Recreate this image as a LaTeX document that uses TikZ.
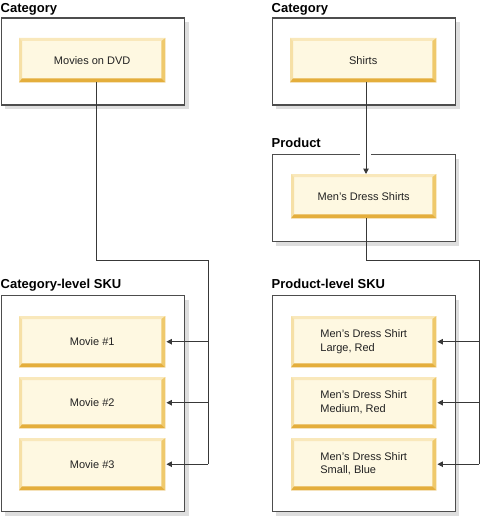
\documentclass[tikz,border=0pt]{standalone}
\usepackage{fontspec}
\setmainfont{Liberation Sans}
\usetikzlibrary{arrows.meta,shadows}
\definecolor{boxfill}{HTML}{FEF8E1}
\definecolor{bevtop}{HTML}{F9E8BB}
\definecolor{bevleft}{HTML}{F6E0A6}
\definecolor{bevright}{HTML}{EFC96C}
\definecolor{bevbot}{HTML}{E4AE3C}
\definecolor{frame}{HTML}{4D4D4D}
\definecolor{shadowgray}{HTML}{DEDEDE}
\definecolor{conncol}{HTML}{383838}
\definecolor{txt}{HTML}{222222}
\tikzset{
  skub/.style={rectangle, fill=boxfill, inner sep=0pt, text=txt,
    font=\fontsize{11}{13.5}\selectfont, align=center, anchor=north west},
  frm/.style={rectangle, draw=frame, fill=white, line width=1.1pt, inner sep=0pt,
    anchor=north west, drop shadow={shadow xshift=4pt, shadow yshift=-4pt, fill=shadowgray, opacity=1}},
  ttl/.style={anchor=base west, inner sep=0pt, font=\fontsize{13}{15}\bfseries\selectfont, text=black},
  connector/.style={draw=conncol, line width=1pt},
  arrowc/.style={connector, -{Triangle[length=5.5pt,width=5.5pt]}},
}
\newcommand\bevels[1]{%
  \fill[bevtop] (#1.north west) -- (#1.north east) -- ([shift={(-4,3)}]#1.north east) -- ([shift={(3,3)}]#1.north west) -- cycle;
  \fill[bevleft] (#1.north west) -- ([shift={(3,3)}]#1.north west) -- ([shift={(3,-4)}]#1.south west) -- (#1.south west) -- cycle;
  \fill[bevright] (#1.north east) -- (#1.south east) -- ([shift={(-4,-4)}]#1.south east) -- ([shift={(-4,3)}]#1.north east) -- cycle;
  \fill[bevbot] (#1.south west) -- (#1.south east) -- ([shift={(-4,-4)}]#1.south east) -- ([shift={(3,-4)}]#1.south west) -- cycle;
}
\begin{document}
\begin{tikzpicture}[x=1pt,y=-1pt]
\useasboundingbox (0,0) rectangle (481,516);
% titles
\node[ttl] (t1) at (0.5,12.5) {Category};
\node[ttl] (t2) at (271.5,12.5) {Category};
\node[ttl] (t3) at (271.5,147.5) {Product};
\node[ttl] (t4) at (0.5,288.5) {Category-level SKU};
\node[ttl] (t5) at (271.5,288.5) {Product-level SKU};
% containers
\node[frm, minimum width=183.5pt, minimum height=87pt] (c1) at (0.6,17.5) {};
\node[frm, minimum width=183.5pt, minimum height=87pt] (c2) at (271.5,17.5) {};
\node[frm, minimum width=183pt, minimum height=87pt] (c3) at (271.5,154) {};
\node[frm, minimum width=183.5pt, minimum height=216pt] (c4) at (0.6,295) {};
\node[frm, minimum width=183pt, minimum height=216pt] (c5) at (271.5,295) {};
% inner boxes
\node[skub, minimum width=146pt, minimum height=44pt] (dvd) at (19,38) {Movies on DVD};
\bevels{dvd}
\node[skub, minimum width=146pt, minimum height=44pt] (shirts) at (290,38) {Shirts};
\bevels{shirts}
\node[skub, minimum width=145pt, minimum height=44pt] (mds) at (291,174) {Men's Dress Shirts};
\bevels{mds}
\node[skub, minimum width=146pt, minimum height=51pt] (m1) at (19,316) {Movie \#1};
\bevels{m1}
\node[skub, minimum width=146pt, minimum height=51pt] (m2) at (19,377) {Movie \#2};
\bevels{m2}
\node[skub, minimum width=146pt, minimum height=52pt] (m3) at (19,438) {Movie \#3};
\bevels{m3}
\node[skub, minimum width=145pt, minimum height=51pt] (s1) at (291,316) {\begin{tabular}{@{}l@{}}Men's Dress Shirt\\Large, Red\end{tabular}};
\bevels{s1}
\node[skub, minimum width=145pt, minimum height=51pt] (s2) at (291,377) {\begin{tabular}{@{}l@{}}Men's Dress Shirt\\Medium, Red\end{tabular}};
\bevels{s2}
\node[skub, minimum width=145pt, minimum height=52pt] (s3) at (291,438) {\begin{tabular}{@{}l@{}}Men's Dress Shirt\\Small, Blue\end{tabular}};
\bevels{s3}
% left connectors
\coordinate (dl) at (96,82);
\coordinate (bl) at (96,260);
\coordinate (rl) at (208,260);
\draw[connector] (dl) -- (bl) -- (rl) -- (rl |- m3.east);
\draw[arrowc] (rl |- m1.east) -- ([xshift=1]m1.east);
\draw[arrowc] (rl |- m2.east) -- ([xshift=1]m2.east);
\draw[arrowc] (rl |- m3.east) -- ([xshift=1]m3.east);
% right connectors
\coordinate (ds) at (366,82);
\fill[white] (360,151) rectangle (371,157);
\draw[arrowc] (ds) -- (ds |- mds.north);
\coordinate (dm) at (366,218);
\coordinate (br) at (366,260);
\coordinate (rr) at (479,260);
\draw[connector] (dm) -- (br) -- (rr) -- (rr |- s3.east);
\draw[arrowc] (rr |- s1.east) -- ([xshift=1]s1.east);
\draw[arrowc] (rr |- s2.east) -- ([xshift=1]s2.east);
\draw[arrowc] (rr |- s3.east) -- ([xshift=1]s3.east);
\end{tikzpicture}
\end{document}
